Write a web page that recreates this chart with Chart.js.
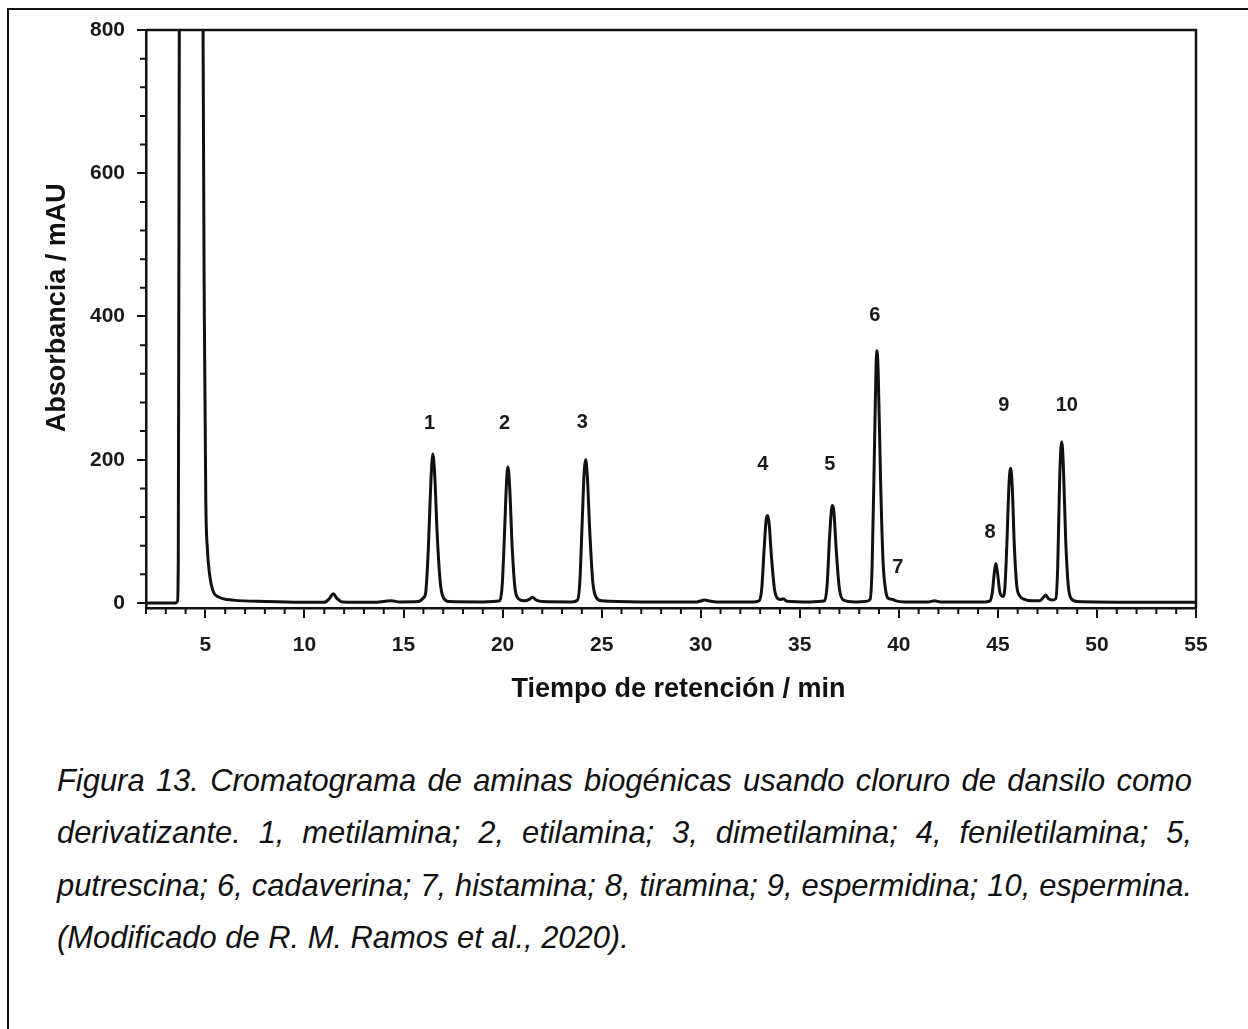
<!DOCTYPE html>
<html>
<head>
<meta charset="utf-8">
<script src="https://cdn.jsdelivr.net/npm/chart.js@4"></script>
<style>
  html, body { margin: 0; padding: 0; background: #fff; }
  body { width: 1248px; height: 1029px; position: relative; overflow: hidden; }
  #frame { position: absolute; left: 7px; top: 8px; right: -10px; bottom: -10px;
           border-left: 2px solid #111; border-top: 2px solid #111; }
  #wrap { position: absolute; left: 0; top: 0; width: 1248px; height: 720px; }
  #caption { position: absolute; left: 57px; top: 755px; width: 1135px;
             font: italic 30.9px "Liberation Sans", Arial, sans-serif; line-height: 52.4px; color: #111; }
  #caption div { white-space: nowrap; }
  #caption .j { text-align: justify; text-align-last: justify; }
</style>
</head>
<body>
<div id="frame"></div>
<div id="wrap"><canvas id="chromChart" width="1248" height="720"></canvas></div>
<div id="caption">
  <div class="j">Figura 13. Cromatograma de aminas biogénicas usando cloruro de dansilo como</div>
  <div class="j">derivatizante. 1, metilamina; 2, etilamina; 3, dimetilamina; 4, feniletilamina; 5,</div>
  <div class="j">putrescina; 6, cadaverina; 7, histamina; 8, tiramina; 9, espermidina; 10, espermina.</div>
  <div>(Modificado de R. M. Ramos et al., 2020).</div>
</div>
<script>
// trace (min, mAU)
const retentionTime = [
  2.0, 3.5, 3.58, 3.63, 3.68, 3.72, 4.3, 4.84, 4.88, 4.95, 5.02, 5.1, 5.2, 5.37, 5.7, 6.4, 8.1, 9.8,
  11.0, 11.25, 11.45, 11.65, 11.9, 13.5, 14.1, 14.4, 14.8, 15.75, 16.0,
  16.12, 16.25, 16.38, 16.48, 16.58, 16.7, 16.85, 17.0, 17.3,
  19.0, 19.85, 19.98, 20.1, 20.2, 20.27, 20.36, 20.48, 20.62, 20.8, 21.1, 21.35, 21.5, 21.7, 22.0, 23.5,
  23.78, 23.9, 24.02, 24.12, 24.19, 24.27, 24.4, 24.55, 24.72, 25.0, 27.0, 29.8, 30.2, 30.4, 30.8, 32.7,
  32.95, 33.08, 33.2, 33.3, 33.37, 33.45, 33.57, 33.72, 33.9, 34.05, 34.17, 34.35, 35.5,
  36.25, 36.38, 36.5, 36.6, 36.65, 36.72, 36.85, 37.0, 37.2, 37.8, 38.3,
  38.55, 38.65, 38.76, 38.85, 38.9, 38.96, 39.08, 39.2, 39.35, 39.5, 39.7, 39.85, 40.3, 41.5, 41.8, 42.1, 44.3,
  44.6, 44.72, 44.83, 44.9, 44.98, 45.1, 45.25,
  45.35, 45.45, 45.56, 45.64, 45.72, 45.83, 45.95, 46.1, 46.35, 46.7, 47.1, 47.3, 47.42, 47.55, 47.75,
  47.92, 48.02, 48.12, 48.22, 48.3, 48.42, 48.55, 48.7, 49.0, 52.0, 55.0
];
const absorbance = [
  0, 0, 2, 60, 800, 1500, 2600, 1500, 800, 380, 140, 75, 42, 18, 8, 4, 2, 1,
  1, 6, 13, 6, 1.5, 1, 2.5, 3, 1.5, 2, 7,
  15, 75, 170, 208, 175, 95, 30, 8, 2,
  1.5, 3, 25, 100, 170, 190, 160, 80, 22, 6, 3, 5, 8, 4, 2, 1.5,
  4, 30, 115, 185, 200, 180, 100, 30, 8, 3, 1.5, 1.5, 4, 3, 1.5, 1.5,
  3, 20, 75, 115, 122, 112, 65, 20, 6, 5, 6, 2.5, 1.5,
  3, 25, 90, 130, 136, 128, 70, 20, 4, 1.5, 2,
  5, 50, 200, 330, 352, 320, 170, 60, 15, 6, 5, 3, 1.5, 1.5, 3, 1.5, 1.5,
  3, 15, 45, 55, 42, 15, 9,
  20, 80, 165, 188, 165, 80, 25, 10, 5, 3, 3, 8, 11, 6, 4,
  6, 50, 175, 225, 195, 90, 25, 6, 2, 1, 1
];

// peak numbers and where they sit (min, mAU)
const peakNames = ['1', '2', '3', '4', '5', '6', '7', '8', '9', '10'];
const peakLabelTime = [16.31, 20.1, 24.02, 33.13, 36.52, 38.79, 39.95, 44.6, 45.3, 48.48];
const peakLabelAbs = [251, 251, 252, 193, 193, 402, 50, 98, 276, 276];

const xTicks = [5, 10, 15, 20, 25, 30, 35, 40, 45, 50, 55];
const yTicks = [0, 200, 400, 600, 800];

const fontFamily = '"Liberation Sans", Arial, sans-serif';
const ink = '#111';

const chromExtras = {
  id: 'chromExtras',
  afterDraw(chart) {
    const {ctx, chartArea: a, scales: {x, y}} = chart;
    ctx.save();
    ctx.strokeStyle = ink;
    ctx.lineWidth = 2.5;
    ctx.beginPath();
    ctx.moveTo(a.left, a.top);
    ctx.lineTo(a.right, a.top);
    ctx.lineTo(a.right, a.bottom);
    ctx.stroke();

    // minor ticks
    ctx.lineWidth = 2;
    ctx.beginPath();
    for (let v = Math.ceil(x.min); v < x.max; v++) {
      if (v % 5 === 0) continue;
      const px = x.getPixelForValue(v);
      ctx.moveTo(px, a.bottom);
      ctx.lineTo(px, a.bottom + 6);
    }
    for (let v = 40; v < y.max; v += 40) {
      if (v % 200 === 0) continue;
      const py = y.getPixelForValue(v);
      ctx.moveTo(a.left - 6, py);
      ctx.lineTo(a.left, py);
    }
    ctx.stroke();

    ctx.fillStyle = '#1a1a1a';
    ctx.font = 'bold 20px ' + fontFamily;
    ctx.textAlign = 'center';
    ctx.textBaseline = 'middle';
    peakNames.forEach((name, i) => {
      ctx.fillText(name, x.getPixelForValue(peakLabelTime[i]), y.getPixelForValue(peakLabelAbs[i]));
    });
    ctx.restore();
  }
};

new Chart(document.getElementById('chromChart'), {
  type: 'line',
  data: {
    datasets: [{
      data: retentionTime.map((t, i) => ({x: t, y: absorbance[i]})),
      borderColor: ink,
      borderWidth: 3,
      pointRadius: 0,
      fill: false,
      cubicInterpolationMode: 'monotone'
    }]
  },
  options: {
    responsive: false,
    animation: false,
    layout: {padding: {left: 0, right: 52, top: 30, bottom: 0}},
    scales: {
      x: {
        type: 'linear',
        min: 2,
        max: 55,
        afterBuildTicks: s => { s.ticks = xTicks.map(v => ({value: v})); },
        afterFit: s => { s.height = 112; },
        ticks: {padding: 15, color: '#1a1a1a', maxRotation: 0, autoSkip: false,
                font: {family: fontFamily, size: 21, weight: 'bold'}},
        grid: {drawOnChartArea: false, tickLength: 10, color: ink, lineWidth: 2},
        border: {color: ink, width: 2.5},
        title: {display: true, text: '  Tiempo de retención / min', color: '#111',
                font: {family: fontFamily, size: 27, weight: 'bold'}, padding: {top: 0, bottom: 14}}
      },
      y: {
        min: -7,
        max: 800,
        afterBuildTicks: s => { s.ticks = yTicks.map(v => ({value: v})); },
        afterFit: s => { s.width = 146; },
        ticks: {padding: 12, color: '#1a1a1a',
                font: {family: fontFamily, size: 21, weight: 'bold'}},
        grid: {drawOnChartArea: false, tickLength: 9, color: ink, lineWidth: 2},
        border: {color: ink, width: 2.5},
        title: {display: true, text: '   Absorbancia / mAU', color: '#111',
                font: {family: fontFamily, size: 27, weight: 'bold'}, padding: {top: 41, bottom: 0}}
      }
    },
    plugins: {
      legend: {display: false},
      tooltip: {enabled: false}
    }
  },
  plugins: [chromExtras]
});
</script>
</body>
</html>
